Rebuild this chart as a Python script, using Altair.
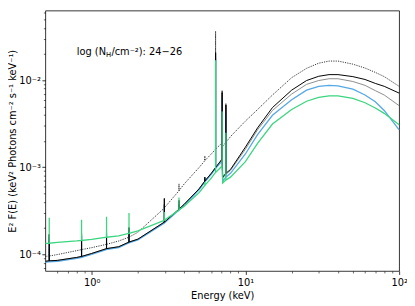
import altair as alt
import pandas as pd

# ---------------- data ----------------
cont_energy = [0.5, 0.6, 0.8, 1.0, 1.5, 2.0, 3.0, 4.0, 5.0, 6.0, 7.0, 7.12, 8.0,
               10.0, 12.0, 15.0, 20.0, 25.0, 30.0, 35.0, 40.0, 50.0, 60.0, 70.0, 80.0, 100.0]

dotted_cont = [9.43e-5, 9.92e-5, 1.10e-4, 1.19e-4, 1.42e-4, 1.79e-4, 3.48e-4, 6.43e-4, 9.93e-4,
               1.42e-3, 1.88e-3, 1.74e-3, 2.25e-3, 3.39e-3, 4.60e-3, 6.76e-3, 1.07e-2, 1.37e-2,
               1.57e-2, 1.66e-2, 1.66e-2, 1.53e-2, 1.38e-2, 1.23e-2, 1.10e-2, 8.51e-3]
black_cont = [8.3e-5, 8.5e-5, 9.19e-5, 1.02e-4, 1.22e-4, 1.49e-4, 2.37e-4, 3.75e-4, 5.65e-4,
              8.51e-4, 1.22e-3, 7.69e-4, 9.42e-4, 1.70e-3, 2.83e-3, 4.85e-3, 7.69e-3, 9.92e-3,
              1.11e-2, 1.16e-2, 1.16e-2, 1.10e-2, 1.02e-2, 9.19e-3, 8.51e-3, 7.11e-3]
gray_cont = [8.3e-5, 8.5e-5, 9.19e-5, 1.02e-4, 1.22e-4, 1.49e-4, 2.37e-4, 3.75e-4, 5.65e-4,
             8.51e-4, 1.21e-3, 7.48e-4, 9.18e-4, 1.61e-3, 2.69e-3, 4.49e-3, 6.93e-3, 8.96e-3,
             9.92e-3, 1.04e-2, 1.04e-2, 9.67e-3, 8.73e-3, 7.59e-3, 6.76e-3, 5.10e-3]
blue_cont = [8.09e-5, 8.3e-5, 8.95e-5, 9.93e-5, 1.19e-4, 1.46e-4, 2.31e-4, 3.66e-4, 5.51e-4,
             8.3e-4, 1.16e-3, 6.94e-4, 8.51e-4, 1.42e-3, 2.37e-3, 3.95e-3, 5.95e-3, 7.69e-3,
             8.51e-3, 8.73e-3, 8.62e-3, 7.88e-3, 6.76e-3, 5.65e-3, 4.49e-3, 2.69e-3]
green_cont = [1.33e-4, 1.37e-4, 1.42e-4, 1.48e-4, 1.63e-4, 1.86e-4, 2.49e-4, 3.57e-4, 5.1e-4,
              7.48e-4, 1.02e-3, 6.59e-4, 7.69e-4, 1.16e-3, 1.88e-3, 3.14e-3, 4.6e-3, 5.73e-3,
              6.34e-3, 6.59e-3, 6.59e-3, 6.18e-3, 5.51e-3, 4.79e-3, 4.16e-3, 3.08e-3]

line_energy = [0.53, 0.86, 1.25, 1.75, 2.97, 3.70, 5.45, 6.40, 7.06, 7.47]

dotted_base = [9.55e-5, 1.13e-4, 1.30e-4, 1.57e-4, 3.39e-4, 5.37e-4, 1.19e-3, 1.61e-3, 1.93e-3, 1.93e-3]
dotted_peak = [1.16e-4, 1.315e-4, 1.49e-4, 1.83e-4, 3.75e-4, 6.43e-4, 1.35e-3, 3.66e-2, 7.69e-3, 5.37e-3]
black_base = [8.4e-5, 9.43e-5, 1.16e-4, 1.38e-4, 2.34e-4, 3.30e-4, 6.94e-4, 9.92e-4, 1.25e-3, 8.51e-4]
black_peak = [1.70e-4, 1.74e-4, 1.88e-4, 2.03e-4, 4.38e-4, 4.16e-4, 7.69e-4, 2.08e-2, 7.30e-3, 5.24e-3]
gray_base = [8.4e-5, 9.43e-5, 1.16e-4, 1.38e-4, 2.34e-4, 3.30e-4, 6.94e-4, 9.92e-4, 1.25e-3, 8.3e-4]
gray_peak = [1.66e-4, 1.66e-4, 1.79e-4, 1.98e-4, 3.75e-4, 3.75e-4, 7.3e-4, 2.03e-2, 6.93e-3, 4.97e-3]
blue_base = [8.19e-5, 9.19e-5, 1.13e-4, 1.35e-4, 2.28e-4, 3.22e-4, 6.76e-4, 9.67e-4, 1.187e-3, 7.69e-4]
blue_peak = [1.57e-4, 1.61e-4, 1.74e-4, 1.88e-4, 3.66e-4, 3.75e-4, 7.69e-4, 1.83e-2, 6.11e-3, 4.16e-3]
green_base = [1.34e-4, 1.44e-4, 1.57e-4, 1.74e-4, 2.46e-4, 3.22e-4, 6.18e-4, 8.73e-4, 1.044e-3, 7.12e-4]
green_peak = [2.62e-4, 2.49e-4, 2.69e-4, 2.98e-4, 3.06e-4, 4.49e-4, 6.76e-4, 1.70e-2, 4.38e-3, 2.49e-3]

curves = ["dotted", "gray", "blue", "black", "green"]
cont = {"dotted": dotted_cont, "black": black_cont, "gray": gray_cont,
        "blue": blue_cont, "green": green_cont}
base = {"dotted": dotted_base, "black": black_base, "gray": gray_base,
        "blue": blue_base, "green": green_base}
peak = {"dotted": dotted_peak, "black": black_peak, "gray": gray_peak,
        "blue": blue_peak, "green": green_peak}

x_major = [1, 10, 100]
x_minor = [0.6, 0.7, 0.8, 0.9, 2, 3, 4, 5, 6, 7, 8, 9, 20, 30, 40, 50, 60, 70, 80, 90]
y_major = [1e-4, 1e-3, 1e-2]
y_minor = [7e-5, 8e-5, 9e-5, 2e-4, 3e-4, 4e-4, 5e-4, 6e-4, 7e-4, 8e-4, 9e-4,
           2e-3, 3e-3, 4e-3, 5e-3, 6e-3, 7e-3, 8e-3, 9e-3, 2e-2, 3e-2, 4e-2, 5e-2, 6e-2]

annot_parts = ["log (N", "H", "/cm\u207b\u00b2): 24\u221226"]

# ---------------- table ----------------
rows = []
for name in curves:
    pts = [(e, v, 0) for e, v in zip(cont_energy, cont[name])]
    for e, b, p in zip(line_energy, base[name], peak[name]):
        pts += [(e, b, 0), (e, p, 1), (e, b, 2)]
    pts.sort(key=lambda t: (t[0], t[2]))
    for i, (e, v, _) in enumerate(pts):
        rows.append({"curve": name, "energy": e, "flux": v, "seq": i})
df = pd.DataFrame(rows)

FONT = "DejaVu Sans"
xscale = alt.Scale(type="log", domain=[0.5, 100], nice=False)
yscale = alt.Scale(type="log", domain=[6.42e-5, 0.0632], nice=False)

x_axis = alt.Axis(values=x_major, orient="bottom",
                  labelExpr="datum.value < 5 ? '10\u2070' : datum.value < 50 ? '10\u00b9' : '10\u00b2'",
                  tickSize=3.5, tickWidth=0.8, tickColor="black", domain=False, grid=False,
                  labelFont=FONT, labelFontSize=10, labelColor="black", labelPadding=3,
                  labelFlush=False, titleFont=FONT, titleFontSize=10, titleFontWeight="normal",
                  titleColor="black", titlePadding=4)
y_axis = alt.Axis(values=y_major, orient="left",
                  labelExpr="datum.value < 5e-4 ? '10\u207b\u2074' : datum.value < 5e-3 ? '10\u207b\u00b3' : '10\u207b\u00b2'",
                  tickSize=3.5, tickWidth=0.8, tickColor="black", domain=False, grid=False,
                  labelFont=FONT, labelFontSize=10, labelColor="black", labelPadding=1.5,
                  labelFlush=False, titleFont=FONT, titleFontSize=10, titleFontWeight="normal",
                  titleColor="black", titlePadding=1)

styles = {
    "dotted": dict(color="black", strokeWidth=0.8, strokeDash=[1.2, 1.2]),
    "gray": dict(color="#8c8c8c", strokeWidth=1.0),
    "blue": dict(color="#55a8e6", strokeWidth=1.3),
    "black": dict(color="black", strokeWidth=1.0),
    "green": dict(color="#3ad67f", strokeWidth=1.3),
}

layers = []
for k, name in enumerate(curves):
    first = k == 0
    layers.append(
        alt.Chart(df).transform_filter(alt.datum.curve == name)
        .mark_line(**styles[name])
        .encode(
            x=alt.X("energy:Q", scale=xscale,
                    axis=x_axis if first else None,
                    title="Energy (keV)"),
            y=alt.Y("flux:Q", scale=yscale,
                    axis=y_axis if first else None,
                    title="E\u00b2 F(E) (keV\u00b2 Photons cm\u207b\u00b2 s\u207b\u00b9 keV\u207b\u00b9)"),
            order="seq:Q",
        )
    )

minor = alt.Chart(df).mark_point(opacity=0).encode(
    x=alt.X("energy:Q", scale=xscale, title=None,
            axis=alt.Axis(values=x_minor, orient="bottom", labels=False, tickSize=2,
                          tickWidth=0.6, tickColor="black", domain=False, grid=False)),
    y=alt.Y("flux:Q", scale=yscale, title=None,
            axis=alt.Axis(values=y_minor, orient="left", labels=False, tickSize=2,
                          tickWidth=0.6, tickColor="black", domain=False, grid=False)),
)

tx0 = 32
t1 = alt.Chart(pd.DataFrame({"t": [annot_parts[0]]})).mark_text(
    align="left", baseline="middle", font=FONT, fontSize=10, color="black"
).encode(x=alt.value(tx0), y=alt.value(42), text="t:N")
t2 = alt.Chart(pd.DataFrame({"t": [annot_parts[1]]})).mark_text(
    align="left", baseline="middle", font=FONT, fontSize=7, color="black"
).encode(x=alt.value(tx0 + 29.8), y=alt.value(45), text="t:N")
t3 = alt.Chart(pd.DataFrame({"t": [annot_parts[2]]})).mark_text(
    align="left", baseline="middle", font=FONT, fontSize=10, color="black"
).encode(x=alt.value(tx0 + 35.2), y=alt.value(42), text="t:N")

chart = (
    alt.layer(*layers, minor, t1, t2, t3)
    .resolve_axis(x="independent", y="independent")
    .properties(width=360, height=265,
                autosize=alt.AutoSizeParams(type="none"),
                padding={"left": 38, "top": 0, "right": 8, "bottom": 31})
    .configure(font=FONT)
    .configure_view(stroke="black", strokeWidth=0.8)
)

chart.save("out.html", embed_options={"renderer": "svg", "actions": False})
